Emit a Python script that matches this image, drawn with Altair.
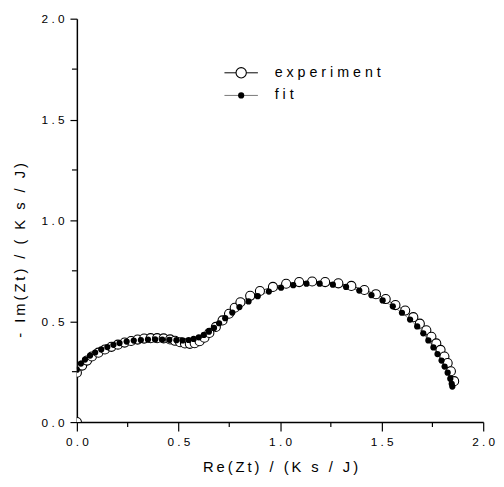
import altair as alt
import pandas as pd

# experiment (open circles)
exp_x = [0.0, 0.0, 0.026, 0.05, 0.074, 0.106, 0.138, 0.170, 0.202, 0.235, 0.267, 0.299,
         0.331, 0.363, 0.395, 0.427, 0.459, 0.483, 0.508, 0.532, 0.556, 0.580, 0.604,
         0.628, 0.652, 0.684, 0.717, 0.749, 0.777, 0.805, 0.853, 0.901, 0.965, 1.030,
         1.094, 1.158, 1.222, 1.287, 1.351, 1.415, 1.472, 1.520, 1.568, 1.616, 1.656,
         1.688, 1.720, 1.745, 1.769, 1.790, 1.809, 1.825, 1.841, 1.857]
exp_y = [0.0, 0.245, 0.28, 0.305, 0.325, 0.344, 0.36, 0.373, 0.384, 0.394, 0.402, 0.409,
         0.414, 0.416, 0.416, 0.415, 0.410, 0.403, 0.396, 0.390, 0.388, 0.391, 0.401,
         0.418, 0.442, 0.472, 0.504, 0.537, 0.567, 0.594, 0.626, 0.650, 0.670, 0.686,
         0.694, 0.697, 0.694, 0.688, 0.675, 0.655, 0.634, 0.610, 0.580, 0.553, 0.520,
         0.488, 0.455, 0.423, 0.390, 0.358, 0.325, 0.293, 0.252, 0.203]

# fit (filled dots)
fit_x = [0.0, 0.02, 0.04, 0.065, 0.09, 0.12, 0.15, 0.18, 0.21, 0.245, 0.28, 0.315, 0.35,
         0.385, 0.42, 0.455, 0.49, 0.52, 0.55, 0.575, 0.60, 0.625, 0.65, 0.675, 0.70,
         0.73, 0.765, 0.80, 0.845, 0.89, 0.945, 1.005, 1.065, 1.13, 1.195, 1.26, 1.325,
         1.39, 1.45, 1.505, 1.555, 1.60, 1.64, 1.675, 1.705, 1.73, 1.755, 1.775, 1.795,
         1.81, 1.825, 1.838, 1.845, 1.848]
fit_y = [0.26, 0.29, 0.31, 0.33, 0.345, 0.36, 0.372, 0.383, 0.392, 0.399, 0.404, 0.407,
         0.409, 0.41, 0.409, 0.408, 0.406, 0.405, 0.407, 0.412, 0.42, 0.432, 0.448, 0.467,
         0.49, 0.515, 0.543, 0.57, 0.598, 0.624, 0.647, 0.666, 0.679, 0.686, 0.686, 0.681,
         0.67, 0.652, 0.629, 0.603, 0.574, 0.542, 0.508, 0.474, 0.44, 0.405, 0.37, 0.337,
         0.305, 0.275, 0.245, 0.215, 0.19, 0.176]

major_ticks = [0.0, 0.5, 1.0, 1.5, 2.0]
minor_ticks = [0.25, 0.75, 1.25, 1.75]
legend_labels = ["experiment", "fit"]

W, H = 413, 410
FONT = "Liberation Sans"
TS = "\u2009"


def spaced(s, sep=TS):
    return sep.join(s)


exp_df = pd.DataFrame({"x": exp_x, "y": exp_y, "order": range(len(exp_x))})
fit_df = pd.DataFrame({"x": fit_x, "y": fit_y, "order": range(len(fit_x))})
minor_df = pd.DataFrame({"v": minor_ticks})
one = pd.DataFrame({"a": [0]})

xscale = alt.Scale(domain=[0, 2], nice=False, zero=False)
yscale = alt.Scale(domain=[0, 2], nice=False, zero=False)

label_expr = "replace(format(datum.value, '.1f'), '.', ' . ')"

xaxis = alt.Axis(values=major_ticks, grid=False, tickSize=9, tickColor="black",
                 domainColor="black", domainWidth=1.5, tickWidth=1.2,
                 labelFont=FONT, labelFontSize=12, labelColor="black", labelPadding=6,
                 labelExpr=label_expr, labelFlush=False, labelOverlap=False,
                 title=spaced("Re(Zt) / (K s / J)"), titleFont=FONT, titleFontSize=15,
                 titleFontWeight="normal", titleColor="black", titlePadding=12)
yaxis = alt.Axis(values=major_ticks, grid=False, tickSize=7, tickColor="black",
                 domainColor="black", domainWidth=1.5, tickWidth=1.2,
                 labelFont=FONT, labelFontSize=12, labelColor="black", labelPadding=6,
                 labelExpr=label_expr, labelFlush=False, labelOverlap=False,
                 title=spaced("- Im(Zt) / ( K s / J)"), titleFont=FONT, titleFontSize=15,
                 titleFontWeight="normal", titleColor="black",
                 titleAngle=270, titleX=-58, titleY=235, titleBaseline="middle",
                 titleAlign="center")

exp_line = alt.Chart(exp_df).mark_line(color="black", strokeWidth=0.8, clip=True).encode(
    x=alt.X("x:Q", scale=xscale, axis=xaxis),
    y=alt.Y("y:Q", scale=yscale, axis=yaxis),
    order="order:Q")
fit_line = alt.Chart(fit_df).mark_line(color="#777777", strokeWidth=0.8, clip=True).encode(
    x="x:Q", y="y:Q", order="order:Q")
exp_pts = alt.Chart(exp_df).mark_point(shape="circle", filled=True, fill="white",
                                       stroke="black", strokeWidth=1.1, size=85,
                                       opacity=1, clip=True).encode(x="x:Q", y="y:Q")
fit_pts = alt.Chart(fit_df).mark_point(shape="circle", filled=True, color="black",
                                       size=40, opacity=1, clip=True).encode(x="x:Q", y="y:Q")

minor_x = alt.Chart(minor_df).mark_rule(color="black", strokeWidth=1.2).encode(
    x=alt.X("v:Q"), y=alt.value(H), y2=alt.value(H + 5))
minor_y = alt.Chart(minor_df).mark_rule(color="black", strokeWidth=1.2).encode(
    y=alt.Y("v:Q"), x=alt.value(0), x2=alt.value(-5))

# legend (pixel positions inside plot area)
LX0, LX1, LXC, LY0, DY = 150, 184, 167, 55, 23
leg_exp_line = alt.Chart(one).mark_rule(color="black", strokeWidth=1).encode(
    x=alt.value(LX0), x2=alt.value(LX1), y=alt.value(LY0))
leg_exp_pt = alt.Chart(one).mark_point(
    shape="circle", filled=True, fill="white", stroke="black", strokeWidth=1.1,
    size=110, opacity=1).encode(x=alt.value(LXC), y=alt.value(LY0))
leg_fit_line = alt.Chart(one).mark_rule(color="#777777", strokeWidth=1).encode(
    x=alt.value(LX0), x2=alt.value(LX1), y=alt.value(LY0 + DY))
leg_fit_pt = alt.Chart(one).mark_point(
    shape="circle", filled=True, color="black", size=40, opacity=1).encode(
    x=alt.value(LXC), y=alt.value(LY0 + DY))
leg_text1 = alt.Chart(one).mark_text(align="left", baseline="middle", font=FONT,
                                     fontSize=14.5, color="black",
                                     text=spaced(legend_labels[0], " ")).encode(
    x=alt.value(LX1 + 17), y=alt.value(LY0))
leg_text2 = alt.Chart(one).mark_text(align="left", baseline="middle", font=FONT,
                                     fontSize=14.5, color="black",
                                     text=spaced(legend_labels[1], " ")).encode(
    x=alt.value(LX1 + 17), y=alt.value(LY0 + DY))

chart = alt.layer(exp_line, fit_line, exp_pts, fit_pts, minor_x, minor_y,
                  leg_exp_line, leg_exp_pt, leg_fit_line, leg_fit_pt,
                  leg_text1, leg_text2).properties(
    width=W, height=H, autosize=alt.AutoSizeParams(type="none"),
    padding={"left": 70, "top": 7, "right": 13, "bottom": 55}
).configure_view(stroke=None)

chart.save("out.html", embed_options={"renderer": "svg", "actions": False})
